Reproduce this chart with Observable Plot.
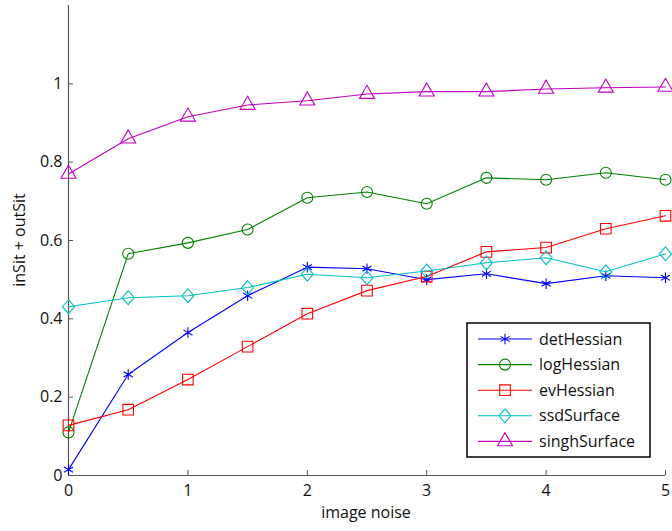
<!DOCTYPE html>
<html>
<head>
<meta charset="utf-8">
<script src="https://cdn.jsdelivr.net/npm/d3@7"></script>
<script src="https://cdn.jsdelivr.net/npm/@observablehq/plot@0.6"></script>
<style>
  body { margin: 0; background: #fff; }
  #wrap { position: relative; width: 672px; height: 531px; font-family: "Open Sans", sans-serif; }
  #legend { position: absolute; left: 466px; top: 322px; }
</style>
</head>
<body>
<div id="wrap"></div>
<script>
const noise = [0, 0.5, 1, 1.5, 2, 2.5, 3, 3.5, 4, 4.5, 5];
const detHessian  = [0.015, 0.258, 0.365, 0.459, 0.532, 0.528, 0.500, 0.515, 0.490, 0.510, 0.505];
const logHessian  = [0.110, 0.566, 0.594, 0.628, 0.709, 0.724, 0.694, 0.760, 0.755, 0.773, 0.755];
const evHessian   = [0.128, 0.168, 0.245, 0.329, 0.413, 0.472, 0.508, 0.571, 0.582, 0.630, 0.663];
const ssdSurface  = [0.431, 0.454, 0.459, 0.480, 0.514, 0.505, 0.522, 0.543, 0.556, 0.520, 0.566];
const singhSurface= [0.770, 0.860, 0.916, 0.946, 0.957, 0.974, 0.980, 0.980, 0.987, 0.990, 0.992];
const xTicks = [0, 1, 2, 3, 4, 5];
const yTicks = [0, 0.2, 0.4, 0.6, 0.8, 1];
const xLabel = "image noise";
const yLabel = "inSit + outSit";

const wideDiamond = {
  draw(ctx, size) {
    const r = Math.sqrt(size / Math.PI), w = r * 1.25, h = r * 1.45;
    ctx.moveTo(0, -h); ctx.lineTo(w, 0); ctx.lineTo(0, h); ctx.lineTo(-w, 0); ctx.closePath();
  }
};

const series = [
  {name: "detHessian",   values: detHessian,   color: "#0000ff", symbol: d3.symbolAsterisk, r: 5},
  {name: "logHessian",   values: logHessian,   color: "#008000", symbol: d3.symbolCircle,   r: 5.5},
  {name: "evHessian",    values: evHessian,    color: "#ff0000", symbol: d3.symbolSquare,   r: 6},
  {name: "ssdSurface",   values: ssdSurface,   color: "#00bfbf", symbol: wideDiamond,       r: 4.8},
  {name: "singhSurface", values: singhSurface, color: "#bf00bf", symbol: d3.symbolTriangle, r: 5.6}
];
const rows = series.flatMap(s => s.values.map((v, i) => ({series: s.name, x: noise[i], y: v})));
const fmt = d => String(d);

const marks = [
  Plot.ruleX([0], {stroke: "#555", strokeWidth: 1.2}),
  Plot.ruleY([0], {stroke: "#555", strokeWidth: 1.2}),
  Plot.axisX({ticks: xTicks, tickFormat: fmt, tickSize: -5, tickPadding: 14, stroke: "#555", fontSize: 16, label: null, color: "#111"}),
  Plot.axisY({ticks: yTicks, tickFormat: fmt, tickSize: -5, tickPadding: 11, stroke: "#555", fontSize: 16, label: null, color: "#111"}),
];
for (const s of series) {
  const d = rows.filter(r => r.series === s.name);
  marks.push(Plot.line(d, {x: "x", y: "y", stroke: s.color, strokeWidth: 1.1}));
  marks.push(Plot.dot(d, {x: "x", y: "y", stroke: s.color, symbol: () => s.symbol, r: s.r, strokeWidth: 1.1, fill: "none"}));
}

const chart = Plot.plot({
  width: 672, height: 531,
  marginLeft: 68, marginRight: 7, marginTop: 5, marginBottom: 56,
  x: {domain: [0, 5]},
  y: {domain: [0, 1.2]},
  symbol: {type: "identity"},
  style: {fontFamily: "'Open Sans', sans-serif", fontSize: "16px", color: "#111", background: "#fff", overflow: "visible"},
  marks
});
const wrap = document.getElementById("wrap");
wrap.appendChild(chart);

// axis titles
const svg = d3.select(chart);
svg.append("text").attr("x", 366).attr("y", 518).attr("text-anchor", "middle")
  .attr("font-size", 16).attr("fill", "#111").text(xLabel);
svg.append("text").attr("transform", "translate(25,240) rotate(-90)").attr("text-anchor", "middle")
  .attr("font-size", 16).attr("fill", "#111").text(yLabel);

// legend
const lg = d3.select(wrap).append("svg").attr("id", "legend").attr("width", 186).attr("height", 137);
lg.append("rect").attr("x", 1).attr("y", 1).attr("width", 183).attr("height", 134)
  .attr("fill", "#fff").attr("stroke", "#000").attr("stroke-width", 1.5);
series.forEach((s, i) => {
  const cy = 17 + i * 25.6;
  lg.append("line").attr("x1", 12).attr("x2", 66).attr("y1", cy).attr("y2", cy).attr("stroke", s.color).attr("stroke-width", 1.1);
  lg.append("path").attr("transform", `translate(39,${cy})`)
    .attr("d", d3.symbol(s.symbol, Math.PI * s.r * s.r)())
    .attr("fill", "none").attr("stroke", s.color).attr("stroke-width", 1.1);
  lg.append("text").attr("x", 73).attr("y", cy).attr("dy", "0.35em").attr("font-size", 16)
    .attr("font-family", "'Open Sans', sans-serif").attr("fill", "#111").text(s.name);
});
</script>
</body>
</html>
